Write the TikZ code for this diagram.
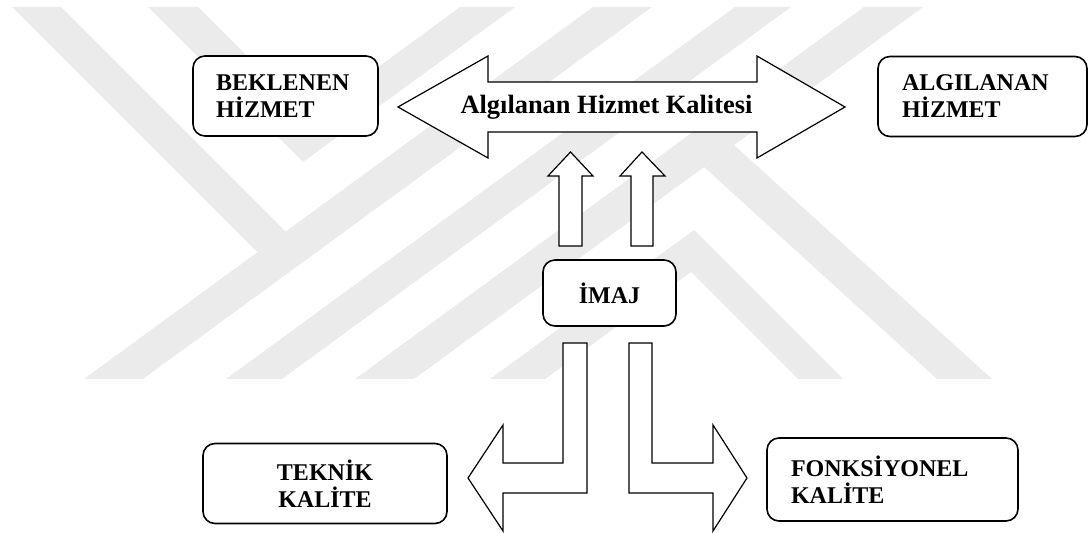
\documentclass[tikz,border=0pt]{standalone}
\usepackage{fontspec}
\setmainfont{Liberation Serif}
\begin{document}
\begin{tikzpicture}[x=0.5pt,y=-0.5pt,
  box/.style={draw,fill=white,rounded corners=6pt,line width=0.8pt,minimum height=40pt,
    font=\fontsize{12}{13.5}\selectfont\bfseries},
  blockarrow/.style={draw,fill=white,line width=0.6pt,line join=miter},
  wmark/.style={fill=black!8,draw=none}]
\useasboundingbox (0,0) rectangle (1089,533);
% watermark
\fill[wmark] (593,7) -- (652,7) -- (143,379) -- (84,379) -- cycle;
\fill[wmark] (12,7) -- (61,7) -- (286,232) -- (257,252) -- cycle;
\fill[wmark] (148,7) -- (198,7) -- (309,118) -- (460,7) -- (515,7) -- (303,162) -- cycle;
\fill[wmark] (735,7) -- (791,7) -- (282,379) -- (226,379) -- cycle;
\fill[wmark] (864,7) -- (923,7) -- (414,379) -- (355,379) -- cycle;
\fill[wmark] (490,379) -- (694,230) -- (843,379) -- (798,379) -- (691,272) -- (545,379) -- cycle;
\fill[wmark] (704,167) -- (734,145) -- (992,379) -- (937,379) -- cycle;
% arrows
\draw[blockarrow] (398,107) -- (488,56) -- (488,82) -- (757,82) -- (757,56) -- (845,107)
  -- (757,158) -- (757,132) -- (488,132) -- (488,158) -- cycle;
\node[font=\fontsize{13.2}{15}\selectfont\bfseries] (kalite) at (606.5,107) {Algılanan Hizmet Kalitesi};
\draw[blockarrow] (559,246) -- (559,176) -- (548,176) -- (570.5,152) -- (593,176) -- (582,176) -- (582,246) -- cycle;
\draw[blockarrow] (631,246) -- (631,176) -- (620,176) -- (642,152) -- (665,176) -- (653,176) -- (653,246) -- cycle;
\draw[blockarrow] (563,343) -- (587,343) -- (587,493) -- (503,493) -- (503,531) -- (468,478)
  -- (503,425) -- (503,463) -- (563,463) -- cycle;
\draw[blockarrow] (629,343) -- (652,343) -- (652,463) -- (713,463) -- (713,425) -- (747,478)
  -- (713,531) -- (713,493) -- (629,493) -- cycle;
% boxes
\node[box,inner xsep=11.5pt,text width=69.5pt,align=left] (beklenen) at (285.5,96) {BEKLENEN\\HİZMET};
\node[box,inner xsep=12pt,text width=80.5pt,align=left] (algilanan) at (982.5,96.5) {ALGILANAN\\HİZMET};
\node[box,minimum width=66.5pt,minimum height=33pt] (imaj) at (609.5,293) {İMAJ};
\node[box,minimum width=122pt,align=center] (teknik) at (325,483.5) {TEKNİK\\KALİTE};
\node[box,inner xsep=12pt,text width=101.5pt,minimum height=41.5pt,align=left] (fonksiyonel) at (892.5,479.5) {FONKSİYONEL\\KALİTE};
\end{tikzpicture}
\end{document}
